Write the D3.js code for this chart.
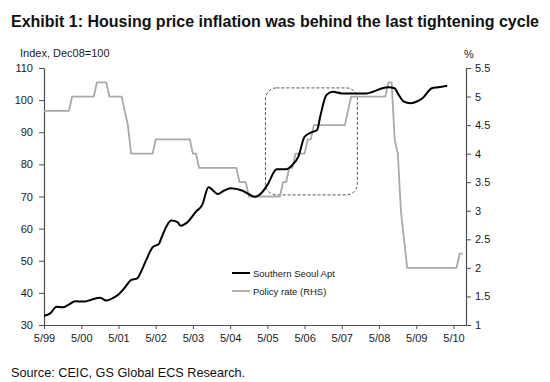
<!DOCTYPE html>
<html>
<head>
<meta charset="utf-8">
<script src="https://cdn.jsdelivr.net/npm/d3@7"></script>
<style>
  html, body { margin: 0; padding: 0; background: #fff; }
  svg { display: block; font-family: "Liberation Sans", Arial, sans-serif; }
</style>
</head>
<body>
<svg id="chart" width="550" height="382"></svg>
<script>
// ---------------- DATA ----------------
const titleText = "Exhibit 1: Housing price inflation was behind the last tightening cycle";
const sourceText = "Source: CEIC, GS Global ECS Research.";
const leftAxisTitle = "Index, Dec08=100";
const rightAxisTitle = "%";
const seriesNames = ["Southern Seoul Apt", "Policy rate (RHS)"];

// Southern Seoul apartment price index (Dec08=100)
const houseDates = ["1999-05","1999-07","1999-09","1999-11","2000-01","2000-03","2000-06","2000-08",
  "2000-11","2001-01","2001-03","2001-05","2001-07","2001-09","2001-11","2001-12","2002-02","2002-04",
  "2002-06","2002-07","2002-10","2002-12","2003-01","2003-03","2003-06","2003-08","2003-10","2004-01",
  "2004-03","2004-05","2004-09","2004-11","2005-01","2005-03","2005-05","2005-08","2005-11","2006-01",
  "2006-03","2006-05","2006-07","2006-09","2006-10","2006-12","2007-02","2007-05","2007-08","2008-01",
  "2008-03","2008-06","2008-08","2008-10","2008-11","2009-01","2009-03","2009-05","2009-07","2009-10",
  "2009-12","2010-03"];
const houseValues = [32.9,33.6,35.7,35.5,36.4,37.4,37.3,37.8,
  38.5,37.6,38.3,39.5,41.6,44.0,44.5,46.1,50.5,54.2,
  55.2,57.5,62.5,62.0,60.9,61.8,65.3,67.4,72.9,70.8,
  71.8,72.6,71.8,70.7,69.9,71.0,73.6,78.5,78.5,79.8,
  82.4,88.6,89.9,90.7,94.8,101.6,102.6,102.1,102.1,102.1,
  102.6,103.7,104.0,103.7,102.1,99.5,99.0,99.5,100.6,103.7,
  104.0,104.5];

// Policy rate (%), monthly from 1999-05 to 2010-08
const rateStart = "1999-05";
const rateValues = [
  4.75,4.75,4.75,4.75,4.75,4.75,4.75,4.75,4.75,          // 1999-05 .. 2000-01
  5.0,5.0,5.0,5.0,5.0,5.0,5.0,5.0,                      // 2000-02 .. 2000-09
  5.25,5.25,5.25,5.25,                                  // 2000-10 .. 2001-01
  5.0,5.0,5.0,5.0,5.0,                                  // 2001-02 .. 2001-06
  4.75,4.5,                                             // 2001-07 .. 2001-08
  4.0,4.0,4.0,4.0,4.0,4.0,4.0,4.0,                      // 2001-09 .. 2002-04
  4.25,4.25,4.25,4.25,4.25,4.25,4.25,4.25,4.25,4.25,4.25,4.25, // 2002-05 .. 2003-04
  4.0,4.0,                                              // 2003-05 .. 2003-06
  3.75,3.75,3.75,3.75,3.75,3.75,3.75,3.75,3.75,3.75,3.75,3.75,3.75, // 2003-07 .. 2004-07
  3.5,3.5,3.5,                                          // 2004-08 .. 2004-10
  3.25,3.25,3.25,3.25,3.25,3.25,3.25,3.25,3.25,3.25,3.25, // 2004-11 .. 2005-09
  3.5,3.5,                                              // 2005-10 .. 2005-11
  3.75,3.75,                                            // 2005-12 .. 2006-01
  4.0,4.0,4.0,4.0,                                      // 2006-02 .. 2006-05
  4.25,4.25,                                            // 2006-06 .. 2006-07
  4.5,4.5,4.5,4.5,4.5,4.5,4.5,4.5,4.5,4.5,4.5,          // 2006-08 .. 2007-06
  4.75,                                                 // 2007-07
  5.0,5.0,5.0,5.0,5.0,5.0,5.0,5.0,5.0,5.0,5.0,5.0,      // 2007-08 .. 2008-07
  5.25,5.25,                                            // 2008-08 .. 2008-09
  4.25,4.0,3.0,2.5,                                     // 2008-10 .. 2009-01
  2.0,2.0,2.0,2.0,2.0,2.0,2.0,2.0,2.0,2.0,2.0,2.0,2.0,2.0,2.0,2.0,2.0, // 2009-02 .. 2010-06
  2.25,2.25                                             // 2010-07 .. 2010-08
];

// Axes
const xTickDates = ["1999-05","2000-05","2001-05","2002-05","2003-05","2004-05","2005-05",
  "2006-05","2007-05","2008-05","2009-05","2010-05"];
const leftTicks = [30,40,50,60,70,80,90,100,110];
const rightTicks = [1,1.5,2,2.5,3,3.5,4,4.5,5,5.5];
const xDomain = ["1999-05-01","2010-09-01"];
const leftDomain = [30,110];
const rightDomain = [1,5.5];

// Highlight box (in data units)
const boxDates = ["2005-04-12","2007-10-01"];
const boxValues = [70.5,103.8];

// ---------------- DRAW ----------------
const parseM = d3.timeParse("%Y-%m");
const parseD = d3.timeParse("%Y-%m-%d");
const svg = d3.select("#chart");
const M = {left: 44, right: 466, top: 68, bottom: 325};

const x = d3.scaleTime().domain(xDomain.map(parseD)).range([M.left, M.right]);
const yL = d3.scaleLinear().domain(leftDomain).range([M.bottom, M.top]);
const yR = d3.scaleLinear().domain(rightDomain).range([M.bottom, M.top]);

const houseData = houseDates.map((d, i) => ({date: parseM(d), v: houseValues[i]}));
const rStart = parseM(rateStart);
const rateData = rateValues.map((v, i) => ({date: d3.timeMonth.offset(rStart, i), v}));

const textColor = "#1a1a1a";
const axisColor = "#4d4d4d";

// Title
svg.append("text").attr("x", 11).attr("y", 27)
  .attr("font-size", 16).attr("font-weight", "bold").attr("fill", "#111")
  .attr("textLength", 528).attr("lengthAdjust", "spacingAndGlyphs")
  .text(titleText);

svg.append("text").attr("x", 20).attr("y", 57)
  .attr("font-size", 11).attr("fill", textColor).text(leftAxisTitle);
svg.append("text").attr("x", 464).attr("y", 58)
  .attr("font-size", 11).attr("fill", textColor).text(rightAxisTitle);

// Axes
function styleAxis(g) {
  g.selectAll("path.domain").attr("stroke", axisColor).attr("stroke-width", 1.2);
  g.selectAll(".tick line").attr("stroke", axisColor);
  g.selectAll(".tick text").attr("fill", textColor).attr("font-size", 11)
    .attr("font-family", "'Liberation Sans', Arial, sans-serif");
}

svg.append("g").attr("transform", `translate(${M.left},0)`)
  .call(d3.axisLeft(yL).tickValues(leftTicks).tickSize(5).tickSizeOuter(0).tickPadding(6))
  .call(styleAxis);

svg.append("g").attr("transform", `translate(${M.right},0)`)
  .call(d3.axisRight(yR).tickValues(rightTicks).tickSize(5).tickSizeOuter(0).tickPadding(4)
    .tickFormat(d3.format("")))
  .call(styleAxis);

svg.append("g").attr("transform", `translate(0,${M.bottom})`)
  .call(d3.axisBottom(x).tickValues(xTickDates.map(parseM)).tickSize(4).tickSizeOuter(0).tickPadding(5)
    .tickFormat(d => (d.getMonth() + 1) + "/" + d3.timeFormat("%y")(d)))
  .call(styleAxis);

// Highlight box
const bx0 = x(parseD(boxDates[0])), bx1 = x(parseD(boxDates[1]));
const by0 = yL(boxValues[1]), by1 = yL(boxValues[0]);
svg.append("rect").attr("x", bx0).attr("y", by0)
  .attr("width", bx1 - bx0).attr("height", by1 - by0)
  .attr("rx", 11).attr("ry", 11)
  .attr("fill", "none").attr("stroke", "#555").attr("stroke-width", 1)
  .attr("stroke-dasharray", "3,2");

// Policy rate line
svg.append("path").datum(rateData)
  .attr("fill", "none").attr("stroke", "#a9a9a9").attr("stroke-width", 1.8)
  .attr("stroke-linejoin", "round")
  .attr("d", d3.line().x(d => x(d.date)).y(d => yR(d.v)));

// House price line
svg.append("path").datum(houseData)
  .attr("fill", "none").attr("stroke", "#000").attr("stroke-width", 2)
  .attr("stroke-linejoin", "round")
  .attr("d", d3.line().curve(d3.curveMonotoneX).x(d => x(d.date)).y(d => yL(d.v)));

// Legend
const legend = [
  {name: seriesNames[0], color: "#000", w: 2, y: 273},
  {name: seriesNames[1], color: "#a9a9a9", w: 1.8, y: 291}
];
legend.forEach(l => {
  svg.append("line").attr("x1", 232).attr("x2", 250).attr("y1", l.y).attr("y2", l.y)
    .attr("stroke", l.color).attr("stroke-width", l.w);
  svg.append("text").attr("x", 253).attr("y", l.y + 3.5)
    .attr("font-size", 9.5).attr("fill", textColor).text(l.name);
});

// Source
svg.append("text").attr("x", 11).attr("y", 377)
  .attr("font-size", 12.7).attr("fill", "#111").text(sourceText);
</script>
</body>
</html>
